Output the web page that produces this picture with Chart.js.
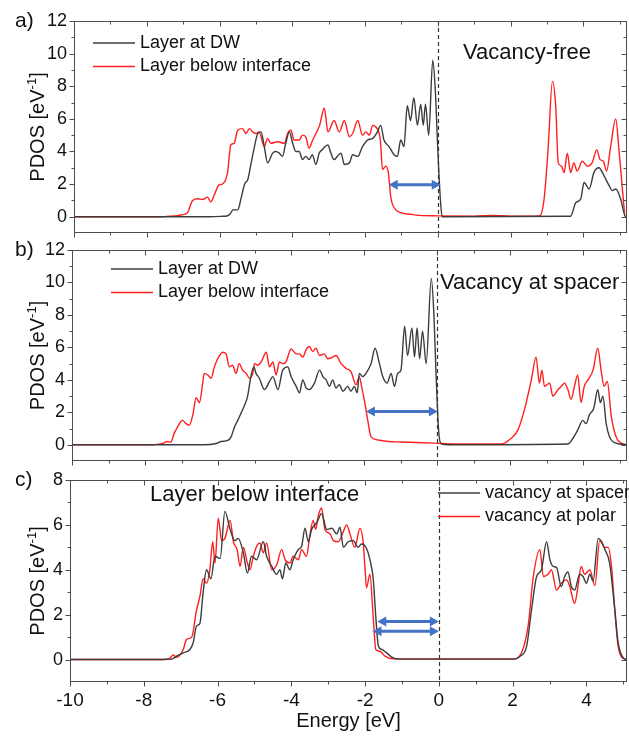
<!DOCTYPE html>
<html>
<head>
<meta charset="utf-8">
<script src="https://cdn.jsdelivr.net/npm/chart.js@4.4.1/dist/chart.umd.min.js"></script>
<style>
  body { margin: 0; background: #fff; width: 629px; height: 737px; position: relative; overflow: hidden; }
  .pane { position: absolute; left: 0; width: 629px; }
</style>
</head>
<body>
<div class="pane" style="top:0;height:238px"><canvas id="ca"></canvas></div>
<div class="pane" style="top:238px;height:230px"><canvas id="cb"></canvas></div>
<div class="pane" style="top:468px;height:269px"><canvas id="cc"></canvas></div>
<script>
// Axis ticks
const xMajor = [-10, -8, -6, -4, -2, 0, 2, 4];
const xMinor = [-9, -7, -5, -3, -1, 1, 3, 5];
const yMajorAB = [0, 2, 4, 6, 8, 10, 12];
const yMinorAB = [-1, 1, 3, 5, 7, 9, 11];
const yMajorC = [0, 2, 4, 6, 8];
const yMinorC = [-1, 1, 3, 5, 7];

// a) vacancy-free  [energy eV, PDOS]
const dwA = [[-10,0],[-6.3,0],[-5.95,0.02],[-5.78,0.06],[-5.7,0.2],[-5.63,0.42],[-5.5,0.42],[-5.4,1.2],[-5.31,2.0],[-5.22,2.3],[-5.13,3.3],[-5.04,4.3],[-4.95,5.1],[-4.86,5.2],[-4.77,4.3],[-4.68,3.3],[-4.54,3.9],[-4.45,4.0],[-4.36,3.9],[-4.27,3.7],[-4.18,4.5],[-4.08,5.2],[-3.99,4.5],[-3.9,4.0],[-3.81,4.0],[-3.72,3.5],[-3.63,3.7],[-3.54,3.5],[-3.45,3.8],[-3.35,3.2],[-3.26,3.9],[-3.18,4.1],[-3.1,4.3],[-3.02,4.4],[-2.94,3.9],[-2.85,3.5],[-2.76,3.7],[-2.66,3.9],[-2.57,3.2],[-2.43,3.3],[-2.34,3.8],[-2.2,3.7],[-2.07,4.3],[-1.93,4.7],[-1.79,4.8],[-1.66,5.2],[-1.57,5.6],[-1.48,4.7],[-1.34,4.3],[-1.2,3.8],[-1.11,3.7],[-1.02,4.7],[-0.93,4.3],[-0.84,6.8],[-0.75,5.9],[-0.66,7.3],[-0.56,5.6],[-0.47,6.9],[-0.4,5.6],[-0.34,6.9],[-0.25,5.0],[-0.14,9.6],[-0.07,7.8],[0.0,4.1],[0.07,1.06],[0.12,0],[3.65,0.03],[3.79,0.85],[3.93,1.1],[4.02,2.1],[4.16,1.7],[4.29,2.7],[4.43,3.0],[4.57,2.5],[4.71,1.9],[4.8,1.6],[4.89,1.7],[5.03,1.06],[5.16,0],[5.2,0]];
const belowA = [[-10,0],[-7.6,0],[-7.24,0.05],[-7.06,0.1],[-6.88,0.25],[-6.74,1.0],[-6.6,1.1],[-6.46,1.05],[-6.33,1.2],[-6.24,0.9],[-6.15,1.3],[-6.01,1.96],[-5.92,2.0],[-5.78,2.7],[-5.69,4.4],[-5.6,4.5],[-5.5,5.3],[-5.37,5.4],[-5.27,5.1],[-5.18,5.4],[-5.09,5.2],[-5.0,5.1],[-4.91,5.2],[-4.77,4.3],[-4.68,4.8],[-4.59,4.5],[-4.4,4.6],[-4.22,4.5],[-4.13,5.1],[-4.04,5.3],[-3.95,4.7],[-3.81,4.7],[-3.72,5.0],[-3.63,4.9],[-3.54,4.2],[-3.44,4.7],[-3.35,5.1],[-3.25,5.6],[-3.12,6.65],[-3.02,5.2],[-2.85,5.9],[-2.71,5.2],[-2.57,5.9],[-2.43,4.9],[-2.34,5.1],[-2.2,5.9],[-2.07,5.0],[-1.98,5.2],[-1.88,5.0],[-1.79,5.6],[-1.67,5.4],[-1.58,4.7],[-1.52,2.9],[-1.43,3.1],[-1.36,2.7],[-1.29,1.15],[-1.2,0.55],[-1.02,0.25],[-0.75,0.15],[-0.5,0.08],[0,0.05],[1,0.03],[1.5,0.08],[2,0.03],[2.8,0.05],[2.92,1.06],[3.03,4.1],[3.15,8.3],[3.24,6.8],[3.31,3.3],[3.4,3.1],[3.47,2.7],[3.56,3.9],[3.65,2.7],[3.74,3.3],[3.83,2.8],[3.97,3.4],[4.11,3.1],[4.24,3.3],[4.37,4.1],[4.46,3.5],[4.55,3.4],[4.64,2.8],[4.75,4.3],[4.89,6.0],[4.98,4.1],[5.07,1.8],[5.16,0],[5.2,0]];

// b) vacancy at spacer
const dwB = [[-10,0],[-6.4,0],[-6.05,0.08],[-5.92,0.2],[-5.73,0.27],[-5.64,0.5],[-5.55,1.1],[-5.46,1.5],[-5.37,1.95],[-5.28,2.4],[-5.19,3.0],[-5.1,4.2],[-5.02,4.8],[-4.96,4.4],[-4.87,4.1],[-4.73,3.4],[-4.59,3.9],[-4.5,4.2],[-4.36,3.4],[-4.23,4.6],[-4.09,4.8],[-4.0,4.2],[-3.86,3.6],[-3.77,3.2],[-3.68,4.0],[-3.59,3.5],[-3.5,3.4],[-3.36,3.8],[-3.22,4.6],[-3.13,4.2],[-3.04,4.0],[-2.95,3.6],[-2.86,4.0],[-2.77,3.5],[-2.68,3.7],[-2.58,3.3],[-2.45,3.6],[-2.36,3.3],[-2.27,3.6],[-2.19,3.2],[-2.13,4.4],[-2.04,4.2],[-1.95,4.4],[-1.81,5.0],[-1.7,5.95],[-1.58,5.0],[-1.49,4.2],[-1.37,3.8],[-1.26,4.4],[-1.17,3.6],[-1.08,4.4],[-0.99,4.6],[-0.89,7.3],[-0.81,5.5],[-0.69,7.2],[-0.62,5.4],[-0.55,7.2],[-0.48,5.3],[-0.4,7.0],[-0.3,5.0],[-0.16,10.25],[-0.09,8.1],[-0.03,4.4],[0.04,0.9],[0.11,0.05],[0.3,0],[3.58,0.05],[3.72,0.4],[3.85,0.9],[3.99,1.5],[4.08,1.3],[4.17,1.85],[4.29,2.25],[4.4,3.4],[4.47,2.6],[4.54,3.0],[4.63,1.3],[4.72,0.5],[4.9,0.1],[5.2,0]];
const belowB = [[-10,0],[-7.8,0],[-7.6,0.05],[-7.49,0.1],[-7.4,0.2],[-7.3,0.15],[-7.2,0.7],[-7.11,1.1],[-6.97,1.5],[-6.88,1.3],[-6.79,1.2],[-6.69,1.85],[-6.6,2.9],[-6.51,2.6],[-6.42,3.8],[-6.38,4.4],[-6.28,4.3],[-6.19,4.1],[-6.1,4.8],[-6.01,5.3],[-5.87,5.7],[-5.78,5.6],[-5.69,4.8],[-5.6,4.9],[-5.51,4.4],[-5.42,5.0],[-5.33,4.6],[-5.23,4.4],[-5.14,4.1],[-5.05,4.4],[-5.0,5.0],[-4.91,4.9],[-4.82,5.1],[-4.68,5.7],[-4.59,4.8],[-4.5,5.1],[-4.41,4.3],[-4.32,5.1],[-4.23,5.0],[-4.14,5.1],[-4.0,5.9],[-3.86,5.6],[-3.77,5.6],[-3.68,5.4],[-3.59,5.85],[-3.5,6.05],[-3.41,5.75],[-3.32,5.95],[-3.22,5.5],[-3.09,5.6],[-3.0,5.3],[-2.86,5.4],[-2.77,5.5],[-2.63,5.0],[-2.49,4.7],[-2.36,4.5],[-2.22,3.7],[-2.13,4.2],[-2.07,3.6],[-1.99,2.7],[-1.9,1.5],[-1.81,0.5],[-1.63,0.3],[-1.35,0.2],[-0.99,0.17],[-0.07,0.1],[0.5,0.05],[1.75,0.05],[2.03,0.4],[2.21,0.9],[2.39,2.15],[2.58,4.0],[2.71,5.4],[2.8,3.8],[2.87,4.6],[2.94,3.6],[3.08,3.8],[3.17,3.0],[3.31,3.4],[3.4,3.6],[3.49,3.8],[3.58,3.4],[3.67,2.8],[3.76,3.6],[3.85,4.3],[3.94,2.6],[4.03,3.6],[4.13,4.0],[4.27,4.6],[4.4,5.95],[4.49,4.6],[4.57,3.6],[4.66,3.9],[4.77,1.75],[4.9,0.5],[5.04,0.1],[5.2,0]];

// c) layer below interface
const spacerC = [[-10,0],[-7.5,0],[-7.25,0.02],[-7.11,0.15],[-6.93,0.3],[-6.75,0.45],[-6.66,0.75],[-6.57,1.5],[-6.48,1.6],[-6.39,3.0],[-6.3,4.0],[-6.18,3.6],[-6.07,4.6],[-5.93,4.5],[-5.8,6.6],[-5.66,5.8],[-5.53,5.3],[-5.44,5.4],[-5.3,4.75],[-5.19,3.85],[-5.08,4.6],[-4.94,4.45],[-4.76,5.25],[-4.67,4.6],[-4.53,4.15],[-4.4,3.8],[-4.31,4.0],[-4.24,3.6],[-4.15,4.3],[-4.04,4.0],[-3.95,4.45],[-3.81,4.9],[-3.72,5.05],[-3.63,5.85],[-3.54,5.25],[-3.45,5.8],[-3.31,6.1],[-3.18,6.5],[-3.04,5.8],[-2.9,5.85],[-2.77,5.6],[-2.68,5.9],[-2.59,5.0],[-2.46,5.25],[-2.32,5.3],[-2.19,5.0],[-2.1,5.15],[-1.96,4.95],[-1.87,4.45],[-1.78,3.6],[-1.71,1.9],[-1.64,0.6],[-1.55,0.45],[-1.42,0.3],[-1.24,0.07],[-1.06,0.02],[2.02,0.02],[2.2,0.15],[2.38,0.6],[2.51,2.2],[2.65,3.7],[2.78,4.0],[2.92,5.25],[3.01,4.45],[3.1,4.15],[3.19,4.1],[3.32,3.25],[3.41,3.7],[3.5,3.9],[3.59,3.25],[3.68,3.1],[3.82,3.8],[3.91,3.7],[4.0,3.4],[4.09,3.8],[4.18,3.5],[4.32,5.4],[4.41,5.25],[4.5,4.9],[4.63,4.3],[4.77,2.2],[4.86,0.75],[5.0,0.07],[5.1,0]];
const polarC = [[-10,0],[-7.5,0],[-7.3,0.05],[-7.2,0.2],[-7.11,0.1],[-6.93,0.45],[-6.84,0.9],[-6.7,1.0],[-6.57,2.2],[-6.48,2.8],[-6.39,3.6],[-6.3,3.4],[-6.21,4.0],[-6.13,5.25],[-6.07,4.3],[-5.98,6.3],[-5.89,5.3],[-5.8,5.4],[-5.66,6.2],[-5.57,5.25],[-5.47,4.9],[-5.39,4.15],[-5.3,5.0],[-5.19,4.3],[-5.12,4.0],[-5.03,4.6],[-4.94,5.05],[-4.85,5.2],[-4.76,4.75],[-4.67,5.2],[-4.53,4.0],[-4.4,4.2],[-4.26,4.9],[-4.17,4.45],[-4.04,4.3],[-3.95,4.6],[-3.81,4.45],[-3.72,4.9],[-3.59,4.6],[-3.5,5.5],[-3.41,6.2],[-3.34,5.8],[-3.27,6.4],[-3.18,6.75],[-3.09,5.8],[-2.95,5.6],[-2.86,5.3],[-2.73,5.25],[-2.59,5.7],[-2.5,6.0],[-2.41,5.6],[-2.28,5.0],[-2.14,5.85],[-2.05,5.2],[-2.0,4.0],[-1.96,3.2],[-1.87,3.8],[-1.78,1.9],[-1.71,0.45],[-1.6,0.37],[-1.46,0.15],[-1.24,0.03],[2.02,0.03],[2.24,0.3],[2.42,1.5],[2.56,3.7],[2.74,4.9],[2.83,3.7],[2.96,3.8],[3.05,4.0],[3.19,3.1],[3.32,3.4],[3.46,3.55],[3.55,3.25],[3.68,2.5],[3.77,3.25],[3.86,4.15],[3.95,3.8],[4.09,4.0],[4.23,3.3],[4.36,5.3],[4.5,5.0],[4.59,5.0],[4.68,4.15],[4.77,2.2],[4.86,0.6],[5.04,0.02],[5.1,0]];

// Band-gap arrows: [from eV, to eV, at PDOS]
const arrowsA = [[-1.35, 0.08, 1.96]];
const arrowsB = [[-1.95, 0.02, 2.05]];
const arrowsC = [[-1.67, 0, 1.7], [-1.8, 0, 1.26]];

const BLACK = '#3c3c3c';
const RED = '#ff1f1f';
const BLUE = '#4472c4';
const FRAME = '#4d4d4d';
const FONT = '"Liberation Sans", Arial, sans-serif';

Chart.defaults.font.family = FONT;
Chart.defaults.color = '#111';

const panels = [
  { id: 'ca', top: 0, padTop: 21, padBottom: 5, left: 74, xMax: 5.2, yMax: 12,
    yMajor: yMajorAB, yMinor: yMinorAB, showX: false, label: 'a)',
    note: 'Vacancy-free', noteAt: [463, 53], legendAt: [93, 43], arrows: arrowsA,
    series: [[dwA, 'Layer at DW', BLACK], [belowA, 'Layer below interface', RED]] },
  { id: 'cb', top: 238, padTop: 12, padBottom: 7, left: 72, xMax: 5.2, yMax: 12,
    yMajor: yMajorAB, yMinor: yMinorAB, showX: false, label: 'b)',
    note: 'Vacancy at spacer', noteAt: [440, 283], legendAt: [111, 269], arrows: arrowsB,
    series: [[dwB, 'Layer at DW', BLACK], [belowB, 'Layer below interface', RED]] },
  { id: 'cc', top: 468, padTop: 12, padBottom: 0, left: 70, xMax: 5.1, yMax: 8,
    yMajor: yMajorC, yMinor: yMinorC, showX: true, label: 'c)',
    note: 'Layer below interface', noteAt: [150, 495], legendAt: [438, 493], arrows: arrowsC,
    series: [[spacerC, 'vacancy at spacer', BLACK], [polarC, 'vacancy at polar', RED]] }
];

function drawArrow(ctx, x1, x2, y) {
  const head = 9, half = 5;
  ctx.strokeStyle = BLUE;
  ctx.fillStyle = BLUE;
  ctx.lineWidth = 3;
  ctx.beginPath();
  ctx.moveTo(x1 + head - 1, y);
  ctx.lineTo(x2 - head + 1, y);
  ctx.stroke();
  ctx.beginPath();
  ctx.moveTo(x1, y); ctx.lineTo(x1 + head, y - half); ctx.lineTo(x1 + head, y + half); ctx.closePath();
  ctx.moveTo(x2, y); ctx.lineTo(x2 - head, y - half); ctx.lineTo(x2 - head, y + half); ctx.closePath();
  ctx.fill();
}

// no label overhang padding: the plot box is placed by layout.padding alone
function noOverhang(s) {
  s.paddingTop = 0;
  s.paddingBottom = 0;
  s.paddingLeft = 0;
  s.paddingRight = 0;
}

function makeDeco(p) {
  return {
    id: 'deco_' + p.id,
    afterDatasetsDraw(chart) {
      const { ctx, chartArea: a, scales: { x, y } } = chart;
      ctx.save();

      // Fermi level
      const x0 = Math.round(x.getPixelForValue(0)) + 0.5;
      ctx.strokeStyle = '#333';
      ctx.lineWidth = 1.2;
      ctx.setLineDash([4, 3]);
      ctx.beginPath();
      ctx.moveTo(x0, a.top);
      ctx.lineTo(x0, a.bottom);
      ctx.stroke();
      ctx.setLineDash([]);

      p.arrows.forEach(([e1, e2, v]) => {
        drawArrow(ctx, x.getPixelForValue(e1), x.getPixelForValue(e2), y.getPixelForValue(v));
      });

      // frame with ticks: outward on left/bottom, inward on top/right
      const L = Math.round(a.left) + 0.5, R = Math.round(a.right) - 0.5;
      const T = Math.round(a.top) + 0.5, B = Math.round(a.bottom) - 0.5;
      ctx.strokeStyle = FRAME;
      ctx.lineWidth = 1;
      ctx.strokeRect(L, T, R - L, B - T);
      ctx.beginPath();
      const xt = (vals, len) => vals.forEach(v => {
        const px = Math.round(x.getPixelForValue(v)) + 0.5;
        if (px < L || px > R) return;
        ctx.moveTo(px, B); ctx.lineTo(px, B + len);
        ctx.moveTo(px, T); ctx.lineTo(px, T + len);
      });
      const yt = (vals, len) => vals.forEach(v => {
        const py = Math.round(y.getPixelForValue(v)) + 0.5;
        if (py < T || py > B) return;
        ctx.moveTo(L - len, py); ctx.lineTo(L, py);
        ctx.moveTo(R - len, py); ctx.lineTo(R, py);
      });
      xt(xMajor, 5); xt(xMinor, 3);
      yt(p.yMajor, 5); yt(p.yMinor, 3);
      ctx.stroke();
      ctx.restore();
    },
    afterDraw(chart) {
      const { ctx, chartArea: a } = chart;
      ctx.save();
      ctx.fillStyle = '#111';
      ctx.textAlign = 'left';
      ctx.textBaseline = 'middle';

      ctx.font = '21px ' + FONT;
      ctx.fillText(p.label, 15, a.top);

      ctx.font = '22px ' + FONT;
      ctx.fillText(p.note, p.noteAt[0], p.noteAt[1] - p.top);

      // legend
      ctx.font = '18px ' + FONT;
      chart.data.datasets.forEach((ds, i) => {
        const lx = p.legendAt[0];
        const ly = p.legendAt[1] - p.top + i * 23.5;
        ctx.strokeStyle = ds.borderColor;
        ctx.lineWidth = 1.4;
        ctx.beginPath();
        ctx.moveTo(lx, ly);
        ctx.lineTo(lx + 42, ly);
        ctx.stroke();
        ctx.fillText(ds.label, lx + 47, ly);
      });

      // y title with superscript
      ctx.translate(37, (a.top + a.bottom) / 2);
      ctx.rotate(-Math.PI / 2);
      ctx.textBaseline = 'alphabetic';
      const main = 'PDOS [eV', sup = '-1', close = ']';
      ctx.font = '20px ' + FONT;
      const w1 = ctx.measureText(main).width, w3 = ctx.measureText(close).width;
      ctx.font = '13px ' + FONT;
      const w2 = ctx.measureText(sup).width;
      let cx = -(w1 + w2 + w3) / 2;
      ctx.font = '20px ' + FONT;
      ctx.fillText(main, cx, 7);
      cx += w1;
      ctx.font = '13px ' + FONT;
      ctx.fillText(sup, cx, -1);
      cx += w2;
      ctx.font = '20px ' + FONT;
      ctx.fillText(close, cx, 7);
      ctx.restore();
    }
  };
}

panels.forEach(p => {
  new Chart(document.getElementById(p.id), {
    type: 'line',
    data: {
      datasets: p.series.map(([pts, label, color]) => ({
        label: label,
        data: pts.map(q => ({ x: q[0], y: q[1] })),
        borderColor: color,
        borderWidth: 1.4,
        pointRadius: 0,
        cubicInterpolationMode: 'monotone',
        fill: false
      }))
    },
    options: {
      responsive: true,
      maintainAspectRatio: false,
      animation: false,
      layout: { padding: { top: p.padTop, right: 2, bottom: p.padBottom, left: 0 } },
      plugins: { legend: { display: false }, tooltip: { enabled: false } },
      scales: {
        x: {
          type: 'linear',
          min: -10,
          max: p.xMax,
          grid: { display: false, drawTicks: false },
          border: { display: false },
          afterBuildTicks: s => { s.ticks = xMajor.map(v => ({ value: v })); },
          afterFit: s => { s.height = p.showX ? 55 : 0; noOverhang(s); },
          ticks: { display: p.showX, padding: 7, font: { size: 19 }, color: '#111', maxRotation: 0, autoSkip: false },
          title: { display: p.showX, text: 'Energy [eV]', font: { size: 20 }, color: '#111', padding: { top: 0, bottom: 4 } }
        },
        y: {
          min: -1,
          max: p.yMax,
          grid: { display: false, drawTicks: false },
          border: { display: false },
          afterBuildTicks: s => { s.ticks = p.yMajor.map(v => ({ value: v })); },
          afterFit: s => { s.width = p.left; noOverhang(s); },
          ticks: { padding: 7, font: { size: 18 }, color: '#111', autoSkip: false }
        }
      }
    },
    plugins: [makeDeco(p)]
  });
});
</script>
</body>
</html>
